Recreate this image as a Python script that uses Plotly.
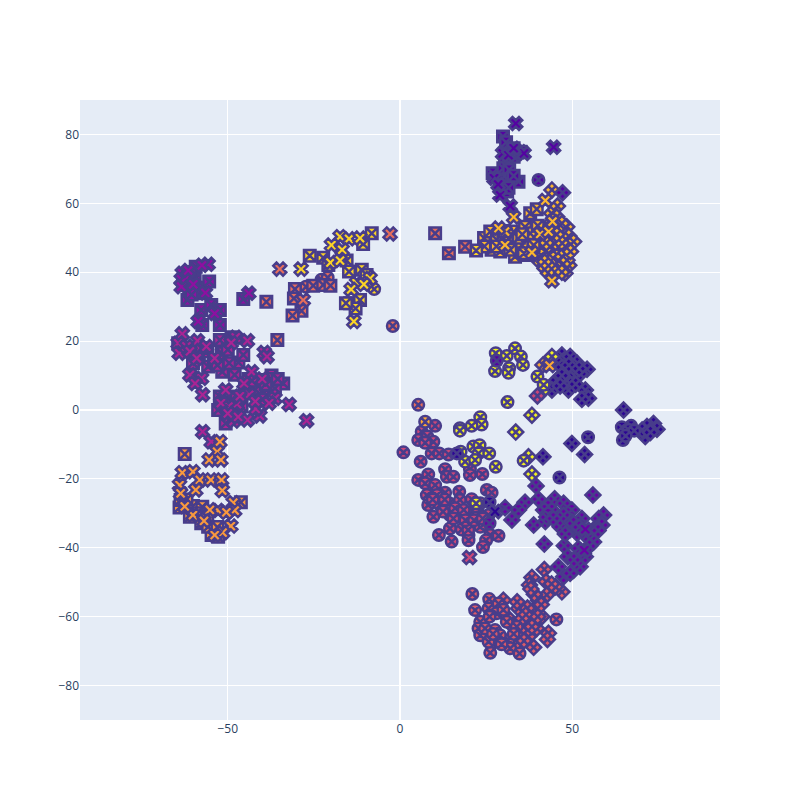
import plotly.graph_objects as go

# north purple group
north_value = 0.15
north_cross_x = [33.6, 44.6, 29.8, 31.5, 35, 36, 33, 27.3, 29, 32, 28.5]
north_cross_y = [83.2, 76.3, 74.5, 74, 75, 74.5, 76, 67.3, 62.4, 59.2, 65.5]
north_square_x = [29.9, 30.8, 33, 35, 33, 30.5, 26.9, 30, 31.7, 34.4, 31.1, 29.8, 31, 33, 29, 31.5]
north_square_y = [79.4, 77.7, 76, 75, 73.5, 73, 68.7, 70.2, 69.7, 66.3, 63.4, 65.3, 67, 68, 66.5, 64.5]
north_circle_x = [40.2, 28.1]
north_circle_y = [66.8, 14.3]
north_diamond_x = [47.2]
north_diamond_y = [63.1]

# north east orange group
ne_value = 0.84
ne_square_x = [24.4, 26.2, 28.1, 26.6, 29.1, 33, 33.4, 35.4, 37.3, 38.8, 36.3, 37.8, 39.7, 37.8, 31, 28, 34.5, 30,
               24.5, 32, 36, 35.5, 40]
ne_square_y = [49.9, 51.8, 49.4, 46.5, 46, 51.8, 44.5, 47.9, 45, 47.9, 53.2, 57.1, 58.3, 51.3, 49, 47.5, 50, 52,
               47.5, 46.5, 45.5, 51, 53.5]
ne_diamond_x = [48.4, 47, 49, 50.4, 45.5, 47.5, 44.1, 41.7, 43.1, 48.4, 45.5, 41.2, 43.6, 46.5, 49, 42.1, 45,
                47.9, 43.1, 46.5, 39.7, 44, 45.7, 44.1, 43.6, 45.5, 47, 39.2, 41, 40, 43, 45.5,
                44.5, 48, 42.5, 47, 44, 41, 46, 43.5, 45.5, 48.5, 49.5, 42, 47]
ne_diamond_y = [53.2, 51.8, 50.5, 48.9, 48.9, 47.4, 47.4, 47.4, 45.5, 45, 44.6, 43.9, 42.6, 43, 42, 41.1, 40.7,
                39.7, 39.7, 41.5, 43.9, 57.1, 59.2, 63.9, 49.4, 56.1, 54.2, 51.3, 49.5, 46, 53.5, 52.5,
                44, 47.5, 48.5, 44.5, 41, 45, 49.5, 53, 51, 43.5, 46, 43, 40]
ne_cross_x = [30.5, 30.5, 40.7, 43.1, 38.3, 44.1, 44.3, 42.2, 33, 28.6]
ne_cross_y = [47.9, 51.8, 51.1, 51.8, 45.7, 37.5, 54.7, 60.8, 56, 52.8]

# upper middle yellow group
upper_value = 0.91
upper_cross_x = [-17.4, -14.8, -11.6, -19.9, -16.8, -20.2, -17.4, -12.6, -14.2, -13.4, -28.7, -8.7, -10.5]
upper_cross_y = [50.3, 49.7, 49.9, 47.9, 46.5, 42.8, 43.4, 36.8, 35, 25.7, 40.9, 38.2, 36.5]
upper_square_x = [-8.2, -10.7, -26.2, -22.3, -20.8, -15.5, -14.8, -11.1, -9.7, -14.5, -11.6, -12.9, -15.7, 22.1]
upper_square_y = [51.3, 48.2, 44.8, 44.2, 42.1, 43.4, 40.2, 40.7, 39.2, 31, 31.9, 29.5, 31, 46.3]
upper_circle_x = [-7.5, -9.2]
upper_circle_y = [35.1, 37.3]

# salmon stragglers
salmon_value = 0.63
salmon_cross_x = [-34.9, -28.1, -2.9]
salmon_cross_y = [40.9, 31.9, 51.1]
salmon_square_x = [-38.8, -35.6, -30.5, -30.8, -28.6, -31.2, -25.2, -22.3, -20.2, 10.2, 14.2, 18.9]
salmon_square_y = [31.4, 20.3, 35.1, 32.4, 28.8, 27.4, 36.1, 36.3, 36.1, 51.3, 45.5, 47.4]
salmon_circle_x = [-27.3, -22.8, -21, -2.1, 5.3]
salmon_circle_y = [35.8, 37.8, 38.5, 24.4, 1.5]

# upper left purple group
ul_value = 0.3
ul_square_x = [-59.3, -59.6, -55.4, -61.7, -57.7, -57.7, -54.8, -52.3, -52.3, -57.4, -45.5, -61, -59, -63, -60.5]
ul_square_y = [41.6, 37.9, 37.3, 31.9, 33.9, 29, 30.5, 29, 24.7, 24.7, 32.2, 40, 35.5, 37, 33.5]
ul_cross_x = [-55.7, -63.2, -63.5, -63.5, -58.6, -43.9, -53.8, -62, -61.5, -60, -56.5, -57.5]
ul_cross_y = [42.3, 39.7, 37.9, 35.8, 25.7, 33.9, 28, 38.5, 40.5, 36.5, 34, 42]

# left magenta group
left_value = 0.38
left_cross_x = [-63.2, -64.4, -64.1, -58.8, -56.2, -53.8, -47.7, -44.3, -39.4, -38.6, -61, -57.6, -59.5, -57.3,
                -43.1, -45.3, -43.8, -36.3, -32.2, -27.1, -40.7, -44.3, -48.3, -41.9, -50.6, -47.3, -49.8,
                -57.3, -54.8, -62, -61, -59, -49, -46.5, -42, -52, -50, -47, -38, -40]
left_cross_y = [22.1, 19.4, 16.5, 20.1, 18.4, 15, 21.1, 20.1, 16.7, 15.5, 10.2, 9.2, 7.7, 4.4,
                11.1, 7.7, 4.4, 3.4, 1.6, -3.1, -1.7, -2.9, -3.2, 0.3, 5.8, 1.7, 1,
                -6.3, -9.2, 18.5, 17, 15, 19.5, 4, 2.5, 2, -1, -2, 2, 9]
left_square_x = [-64.4, -52.3, -48.9, -60.1, -58.4, -55.7, -51.6, -51.8, -46.9, -49.6, -45.5, -48, -37.3, -33.9,
                 -40.7, -38.8, -36.3, -52.8, -47.4, -52.3, -48.9, -41, -46, -50.6, -54, -56, -44, -42, -40, -37.5,
                 -60, -53, -57.5, -50, -45, -43, -39, -35.5, -48, -51]
left_square_y = [19.4, 20.3, 21.1, 13.6, 16.5, 12.6, 11.1, 16.5, 13.8, 13.6, 16, 10.2, 10, 7.7,
                 8.7, 5.8, 6.3, 0, 3.9, 3.9, 0, 3.9, 1, -3.9, 14, 17, 9, 6, 3, 9,
                 18, 13, 18, 17.5, 6, 8.5, 7.5, 9, -1.5, 2]

# lower left orange group
ll_value = 0.76
ll_cross_x = [-52.3, -53.1, -55.4, -52, -63.2, -60.1, -58.1, -54.9, -51.8, -51.6, -59.3, -64, -63.7, -48.4, -48,
              -52.8, -55.2, -50.4, -60.1, -56.9, -49.1, -51.5, -53.8, -62.5]
ll_cross_y = [-9.2, -12.1, -14.5, -14.5, -18.2, -17.9, -20.3, -20.3, -20.3, -23.4, -23.2, -21.8, -24.2, -26.9, -29.2,
              -29.2, -29, -29.7, -30.5, -32.2, -33.7, -35.6, -36.3, -28]
ll_square_x = [-62.5, -46.2, -64, -63.7, -60.1, -57.4, -61, -57.7, -54.7, -52.8, -55.7, -62, -59, -56, -53]
ll_square_y = [-12.8, -26.8, -28.3, -26.1, -27.9, -28.1, -31, -32.9, -36.3, -36.8, -33.9, -26, -30, -31, -34]

# yellow circles and diamonds in the middle
yellow_value = 0.98
yellow_circle_x = [27.8, 31, 33.4, 35.1, 35.7, 31.7, 31.5, 27.6, 39.9, 41.7, 31.2, 23.3, 23.7, 20.8, 17.4, 17.4,
                   21.3, 23.1, 22.8, 25.9, 18.9, 21.8, 27.8, 17.6, 22.1, 35.9]
yellow_circle_y = [16.5, 15.7, 17.9, 15.5, 13.1, 12.1, 10.8, 11.3, 9.7, 7.3, 2.3, -2.1, -4.2, -4.6, -5.3, -6,
                   -10.6, -10.2, -12.6, -12.6, -15, -14.5, -16.5, -12.1, -27.1, -14.7]
yellow_diamond_x = [44.1, 38.3, 33.6, 37.3, 38.3, 41.2]
yellow_diamond_y = [15.5, -1.5, -6.4, -13.6, -18.6, 5.3]

# small orange bits around the yellow ones
amber_value = 0.8
amber_cross_x = [43.4]
amber_cross_y = [12.9]
amber_diamond_x = [41.5]
amber_diamond_y = [13.1]
amber_circle_x = [7.3]
amber_circle_y = [-3.4]

# dark blue group on the right
dark_value = 0.06
dark_diamond_x = [47, 49.4, 51.4, 54.3, 48, 49.9, 45.5, 44.1, 48.9, 53.8, 54.7, 52.8, 52.3, 46, 48.5, 50.5,
                  64.9, 71.2, 73.6, 74.6, 71.7, 70.3, 72.7, 49.9, 53.6, 41.5, 47, 51, 49, 46.5, 52]
dark_diamond_y = [16, 15.5, 13.6, 11.8, 11.6, 9.2, 8.7, 5.8, 5.8, 5.8, 3.4, 3.1, 10.5, 13.5, 8.5, 12.5,
                  0, -7.7, -3.9, -5.6, -4.8, -5.8, -6.5, -9.7, -12.9, -13.6, 10, 7.5, 13, 7, 12]
dark_circle_x = [64.4, 67.1, 64.7, 66.4, 54.6, 46.3, 26, 16.5, 68, 65.5]
dark_circle_y = [-5, -4.6, -8.7, -5.8, -7.9, -19.6, -26.8, -12.6, -6, -7.5]
dark_cross_x = [27.6]
dark_cross_y = [-29.5]

# purple diamonds south east
se_value = 0.2
se_diamond_x = [39.5, 56, 30.5, 36.3, 34.4, 32.5, 40.2, 41.7, 44.9, 47.5, 49.9, 45, 47.5, 42.2, 38.8, 46.5, 49.9,
                52.8, 59.1, 57.7, 56.2, 51.4, 49.4, 58.1, 41.9, 47.7, 48.7, 46, 50.4, 52.3, 53.8, 51.8, 56.2,
                42.6, 50.4, 58.6, 47.5, 49.4, 54, 52, 44.5, 48, 55, 50.5, 43, 57.5]
se_diamond_y = [-22.1, -24.7, -28.4, -26.8, -29, -31.9, -25.9, -29, -25.8, -27.1, -29, -30, -30.5, -32.4, -33.4, -33.9, -32.4,
                -31.5, -30.5, -31.5, -34.8, -35.8, -34.7, -33.7, -38.9, -39.4, -42.6, -45.5, -46.5, -45.5, -42.6, -40.2, -38.3,
                -31.1, -32.9, -33.4, -48.4, -47.4, -36.5, -34, -31.5, -36, -39.5, -43.5, -28, -35]
se_cross_x = [53.8, 53.5]
se_cross_y = [-34.6, -40.7]
se_circle_x = [26]
se_circle_y = [-32.9]

# pink circles, south middle
pink_value = 0.5
pink_circle_x = [1, 10.2, 6.3, 7.9, 9.7, 5.3, 7.3, 9.2, 11.4, 14.1, 6, 13.1, 13.6, 15.5, 20.3, 20.3, 23.9, 8.2, 5.3,
                 7.3, 10.2, 7.8, 13.1, 17.2, 25.2, 26.6, 8.2, 10.7, 11.6, 14.3, 17.4, 20.8, 20.3, 14.5, 17, 9.7,
                 22.8, 25.7, 23.3, 14.5, 17.9, 19.9, 19.9, 11.3, 15, 23.3, 26.2, 28.6, 19.9, 25, 24.1, 19.8,
                 16, 18.5, 12.5, 22, 24.5, 9.5, 13, 15.5, 19, 21.5, 24]
pink_circle_y = [-12.3, -4.6, -6.3, -7.7, -9.2, -8.7, -9.5, -12.6, -12.6, -12.9, -15, -17.2, -19.4, -19.4, -17.2, -18.9, -18.6, -18.7, -20.3,
                 -21.3, -21.8, -24.7, -24, -23.7, -23.2, -24, -27.6, -24.7, -27.6, -27.1, -26.1, -25.9, -30, -30.5, -31, -31,
                 -30, -30.5, -27.1, -34.4, -34.7, -33.9, -36.3, -36.3, -38.2, -33.9, -36.3, -36.5, -37.8, -37.8, -39.8, -34.8,
                 -28.5, -29, -29.5, -28, -33, -26, -26, -31.5, -32, -32, -31.5]
pink_cross_x = [20.2]
pink_cross_y = [-42.8]

# rose group at the bottom
rose_value = 0.57
rose_circle_x = [21, 21.8, 25.9, 25.7, 28.6, 45.4, 23.3, 22.8, 23.3, 27.6, 26.7, 26.2, 31.5, 32, 34.7, 31, 33.9, 29,
                 24.7, 25.7, 28, 30, 26, 33, 29.5, 27]
rose_circle_y = [-53.4, -58.1, -54.9, -57.6, -56.2, -60.8, -61.5, -63.4, -65.4, -63.9, -67.7, -70.5, -66.8, -69.2, -70.7, -61.5, -62.9, -65.4,
                 -63.4, -67.3, -59, -58, -60, -65, -68, -65]
rose_diamond_x = [41.9, 38.3, 37.6, 42.4, 47, 45.1, 42.6, 40.2, 39.2, 41.2, 34.4, 34, 30, 38.8, 35.8, 39.7, 43.1, 42.8, 38.8,
                  34, 37.3, 33, 38.3, 37, 41, 39, 36.5, 44, 38, 35.5, 31, 33, 36, 40]
rose_diamond_y = [-46.3, -48.6, -50.8, -49.8, -52.8, -51.3, -53.7, -55.2, -57.6, -60, -57.6, -55.7, -55.2, -61, -62.9, -63.4, -64.8, -66.6, -68.9,
                  -65.4, -65.8, -68.5, -62.9, -57.5, -56.5, -53.5, -59.5, -50.5, -52, -60.5, -60, -63, -67, -60]
spot_value = 0.5
spot_diamond_x = [39.9]
spot_diamond_y = [4.1]

groups = [
    (dark_value, 'diamond-x', dark_diamond_x, dark_diamond_y),
    (se_value, 'diamond-x', se_diamond_x, se_diamond_y),
    (rose_value, 'diamond-x', rose_diamond_x, rose_diamond_y),
    (ne_value, 'diamond-x', ne_diamond_x, ne_diamond_y),
    (yellow_value, 'diamond-x', yellow_diamond_x, yellow_diamond_y),
    (amber_value, 'diamond-x', amber_diamond_x, amber_diamond_y),
    (spot_value, 'diamond-x', spot_diamond_x, spot_diamond_y),
    (north_value, 'diamond-x', north_diamond_x, north_diamond_y),
    (pink_value, 'circle-x', pink_circle_x, pink_circle_y),
    (rose_value, 'circle-x', rose_circle_x, rose_circle_y),
    (yellow_value, 'circle-x', yellow_circle_x, yellow_circle_y),
    (upper_value, 'circle-x', upper_circle_x, upper_circle_y),
    (salmon_value, 'circle-x', salmon_circle_x, salmon_circle_y),
    (amber_value, 'circle-x', amber_circle_x, amber_circle_y),
    (dark_value, 'circle-x', dark_circle_x, dark_circle_y),
    (north_value, 'circle-x', north_circle_x, north_circle_y),
    (se_value, 'circle-x', se_circle_x, se_circle_y),
    (north_value, 'square-x', north_square_x, north_square_y),
    (ne_value, 'square-x', ne_square_x, ne_square_y),
    (upper_value, 'square-x', upper_square_x, upper_square_y),
    (salmon_value, 'square-x', salmon_square_x, salmon_square_y),
    (ul_value, 'square-x', ul_square_x, ul_square_y),
    (left_value, 'square-x', left_square_x, left_square_y),
    (ll_value, 'square-x', ll_square_x, ll_square_y),
    (north_value, 'x', north_cross_x, north_cross_y),
    (ne_value, 'x', ne_cross_x, ne_cross_y),
    (upper_value, 'x', upper_cross_x, upper_cross_y),
    (salmon_value, 'x', salmon_cross_x, salmon_cross_y),
    (ul_value, 'x', ul_cross_x, ul_cross_y),
    (left_value, 'x', left_cross_x, left_cross_y),
    (ll_value, 'x', ll_cross_x, ll_cross_y),
    (amber_value, 'x', amber_cross_x, amber_cross_y),
    (dark_value, 'x', dark_cross_x, dark_cross_y),
    (se_value, 'x', se_cross_x, se_cross_y),
    (pink_value, 'x', pink_cross_x, pink_cross_y),
]

fig = go.Figure()
for value, symbol, xs, ys in groups:
    fig.add_trace(go.Scatter(
        x=xs, y=ys, mode='markers', showlegend=False,
        marker=dict(size=11.5, symbol=symbol, color=[value] * len(xs), colorscale='Plasma', cmin=0, cmax=1,
                    line=dict(width=2.5, color='DarkSlateBlue')),
    ))

# the page body has an 8px margin, so shift the margins to land the plot area where the reference has it
fig.update_layout(width=800, height=800, template='plotly',
                  margin=dict(l=72, r=88, t=92, b=88))
fig.update_xaxes(range=[-92.9, 92.9], dtick=50)
fig.update_yaxes(range=[-90, 90], dtick=20)
fig.write_html('out.html')
